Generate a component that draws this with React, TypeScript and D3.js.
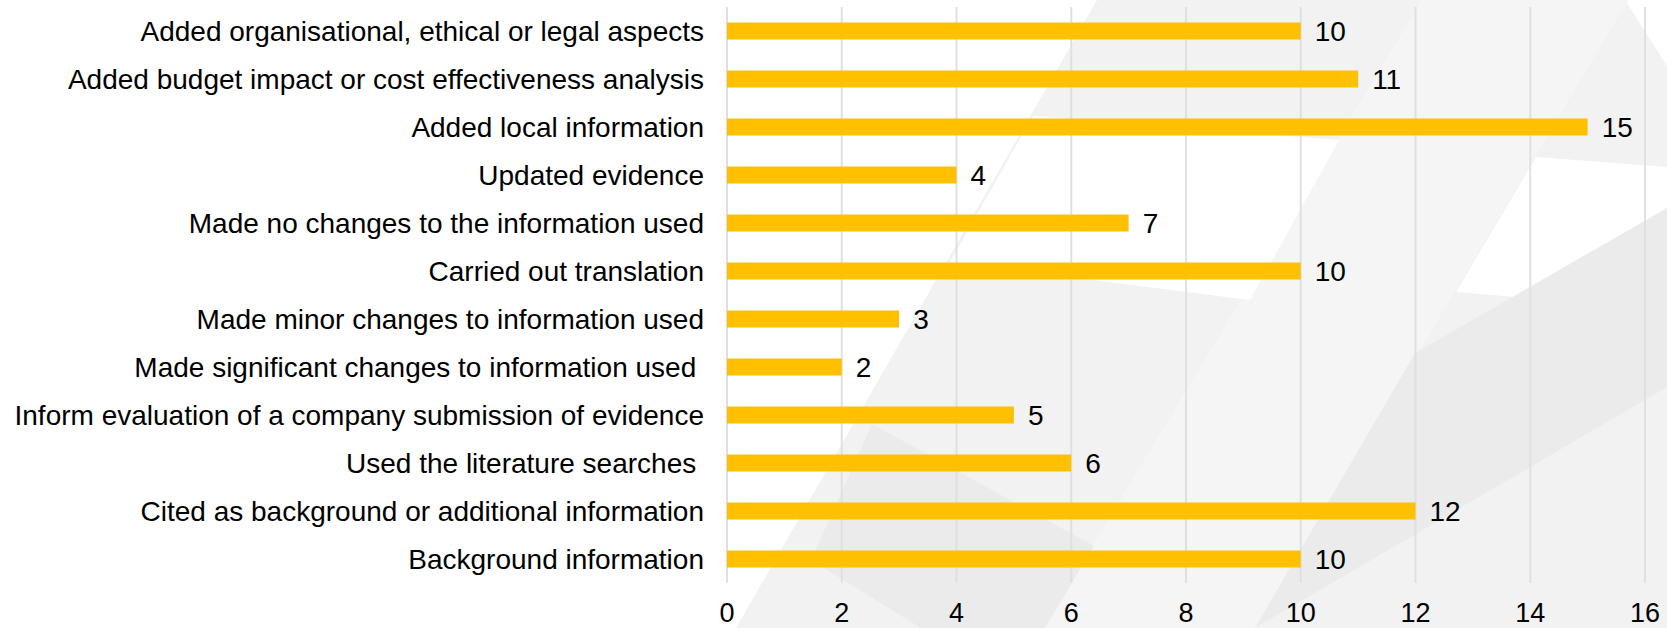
import React from 'react';
import * as d3 from 'd3';

const categories = [
  'Added organisational, ethical or legal aspects',
  'Added budget impact or cost effectiveness analysis',
  'Added local information',
  'Updated evidence',
  'Made no changes to the information used',
  'Carried out translation',
  'Made minor changes to information used',
  'Made significant changes to information used ',
  'Inform evaluation of a company submission of evidence',
  'Used the literature searches ',
  'Cited as background or additional information',
  'Background information',
];

const counts = [10, 11, 15, 4, 7, 10, 3, 2, 5, 6, 12, 10];

const xTicks = [0, 2, 4, 6, 8, 10, 12, 14, 16];

// decorative slide background (light grey translucent shapes)
const bgShapes: { pts: [number, number][]; fill: string }[] = [
  { pts: [[1097, 0], [1625, 0], [1667, 66], [1667, 628], [736, 628]], fill: '#f2f2f2' },
  { pts: [[1422, 0], [1628, 0], [1255, 628], [1043, 628]], fill: '#f5f5f5' },
  { pts: [[1033, 116], [1339, 140], [1250, 300], [950, 262]], fill: '#ffffff' },
  { pts: [[1536, 157], [1667, 167], [1667, 208], [1516, 297], [1456, 292]], fill: '#ffffff' },
  { pts: [[1415, 353], [1667, 208], [1667, 387], [1255, 628]], fill: '#ebebeb' },
  { pts: [[872, 424], [1094, 546], [1045, 628], [921, 628], [811, 560]], fill: '#ebebeb' },
];

const W = 1667;
const H = 628;
const font = '"Liberation Sans", Arial, sans-serif';

export default function App() {
  const x = d3.scaleLinear().domain([0, 16]).range([727, 1645]);
  const y = d3
    .scaleBand<string>()
    .domain(categories)
    .range([7, 583])
    .paddingInner(0.646)
    .paddingOuter(0.323);

  const gridTop = 7;
  const gridBottom = 583;

  return (
    <svg
      width={W}
      height={H}
      style={{ position: 'absolute', left: 0, top: 0, display: 'block', background: '#fff' }}
      fontFamily={font}
    >
      {bgShapes.map((s, i) => (
        <polygon key={i} points={s.pts.map(p => p.join(',')).join(' ')} fill={s.fill} />
      ))}

      {/* gridlines */}
      {xTicks.map(t => (
        <line
          key={t}
          x1={x(t)}
          x2={x(t)}
          y1={gridTop}
          y2={gridBottom}
          stroke="#e0e0e0"
          strokeWidth={2}
        />
      ))}

      {/* bars */}
      {categories.map((c, i) => (
        <rect
          key={c}
          x={x(0)}
          y={y(c)}
          width={x(counts[i]) - x(0)}
          height={y.bandwidth()}
          fill="#FFC000"
        />
      ))}

      {/* value labels */}
      {categories.map((c, i) => (
        <text
          key={c}
          x={x(counts[i]) + 14}
          y={(y(c) as number) + y.bandwidth() / 2}
          dy="0.36em"
          fontSize={28}
          fill="#000"
        >
          {counts[i]}
        </text>
      ))}

      {/* category labels */}
      {categories.map(c => (
        <text
          key={c}
          x={704}
          y={(y(c) as number) + y.bandwidth() / 2}
          dy="0.36em"
          fontSize={28}
          textAnchor="end"
          fill="#000"
          style={{ whiteSpace: 'pre' }}
        >
          {c}
        </text>
      ))}

      {/* x tick labels */}
      {xTicks.map(t => (
        <text key={t} x={x(t)} y={622} fontSize={27} textAnchor="middle" fill="#000">
          {t}
        </text>
      ))}
    </svg>
  );
}
